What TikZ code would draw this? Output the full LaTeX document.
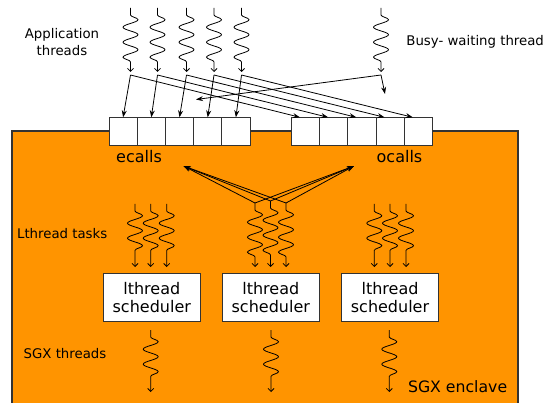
\documentclass[tikz,border=0pt]{standalone}
\usepackage{fontspec}
\setmainfont{DejaVu Sans}
\usetikzlibrary{decorations.pathmorphing,arrows.meta,calc}
\definecolor{orangefill}{RGB}{255,148,0}
\begin{document}
\begin{tikzpicture}[x=1pt,y=-1pt,
  line width=0.8pt,
  enclave/.style={fill=orangefill, draw=black!80, line width=1.3pt},
  cell/.style={draw=black!80, fill=white, minimum width=28.2pt, minimum height=28.4pt,
    inner sep=0pt, outer sep=0pt, line width=0.8pt},
  sched/.style={draw=black!80, fill=white, minimum width=97pt, minimum height=48.4pt,
    inner sep=0pt, align=center, font=\fontsize{16}{18.5}\selectfont},
  thread/.style={decorate, decoration={snake, segment length=15pt, amplitude=7.5pt,
    pre length=7pt, post length=10pt}, -{Straight Barb[length=3pt,width=6pt]}},
  call/.style={-{Stealth[length=7pt,width=5pt]}},
  lbl/.style={font=\fontsize{13.3}{16.7}\selectfont, inner sep=0pt},
  big/.style={font=\fontsize{16}{19}\selectfont, inner sep=0pt},
]
\useasboundingbox (0,0) rectangle (551,403);

% enclave
\draw[enclave] (12,131) rectangle (518,410);

% ecall and ocall slots
\foreach \i in {1,...,5} {
  \node[cell] (e\i) at ({109+14.1+28.2*(\i-1)},131.5) {};
  \node[cell] (o\i) at ({291.3+14.1+28.2*(\i-1)},131.5) {};
}
\node[big] (ecl) at (139,157) {ecalls};
\node[big] (ocl) at (399.5,157) {ocalls};

% application threads
\foreach \i/\x in {1/130.5,2/157.5,3/186.5,4/214,5/241.5} {
  \coordinate (at\i) at (\x,8);
  \coordinate (ab\i) at (\x,72);
  \coordinate (as\i) at (\x,75);
  \draw[thread] (at\i) -- (ab\i);
  \draw[call] (as\i) -- (e\i.north);
  \draw[call] (as\i) -- ([xshift=-5.5pt]o\i.north);
}
\node[lbl, align=center] (applbl) at (62,42) {Application\\threads};

% busy-waiting thread
\coordinate (bt) at (381,8);
\coordinate (bb) at (381,72);
\coordinate (bs) at (381,75);
\coordinate (bdown) at (385,94);
\coordinate (bleft) at (196,99.5);
\draw[thread] (bt) -- (bb);
\draw[call] (bs) -- (bdown);
\draw[call] (bs) -- (bleft);
\node[lbl, anchor=west] (busylbl) at (406,42) {Busy- waiting thread};

% lthread schedulers
\node[sched] (s1) at (151.8,297.5) {lthread\\scheduler};
\node[sched] (s2) at (270.8,297.5) {lthread\\scheduler};
\node[sched] (s3) at (390,297.5) {lthread\\scheduler};

% lthread tasks
\foreach \i/\x in {1/135,2/150.7,3/166.7} {
  \coordinate (l\i) at (\x,204);
  \draw[thread] (l\i) -- (\x,267);
}
\foreach \i/\x in {1/374.3,2/390,3/406} {
  \coordinate (r\i) at (\x,204);
  \draw[thread] (r\i) -- (\x,267);
}
\coordinate (ectip) at (183.5,166);
\coordinate (octip) at (354,166);
\foreach \i/\x/\y in {1/255/203,2/270.5/201,3/286/203} {
  \coordinate (m\i) at (\x,\y);
  \draw[thread] (m\i) -- (\x,267);
  \draw[call] (m\i) -- (ectip);
  \draw[call] (m\i) -- (octip);
}
\node[lbl, anchor=west] (tasklbl) at (16.7,233.3) {Lthread tasks};

% SGX threads
\foreach \i/\x in {1/150.7,2/271,3/389.3} {
  \coordinate (g\i) at (\x,330);
  \draw[thread] (g\i) -- (\x,392);
}
\node[lbl, anchor=west] (sgxlbl) at (23.3,354) {SGX threads};
\node[lbl, anchor=west, font=\fontsize{15.7}{18}\selectfont] (enclbl) at (407.7,386.7) {SGX enclave};
\end{tikzpicture}
\end{document}
